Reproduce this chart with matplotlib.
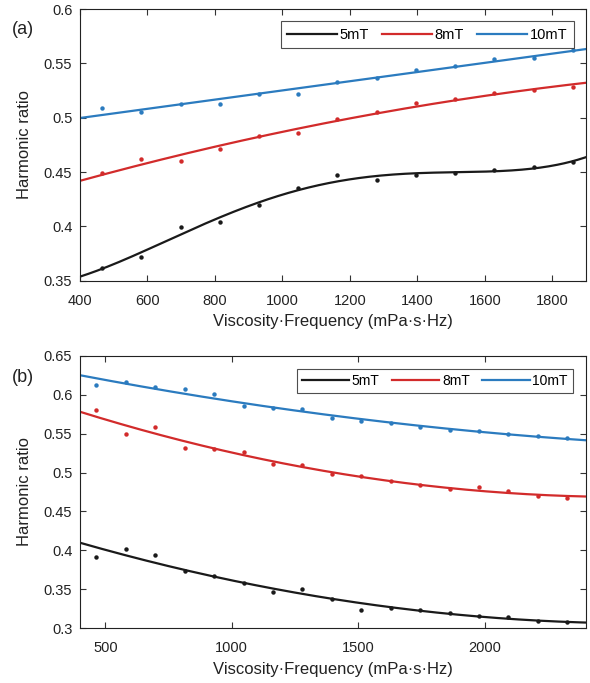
import numpy as np
import matplotlib
matplotlib.use("Agg")
import matplotlib.pyplot as plt

plt.rcParams['font.family'] = ['Liberation Sans', 'DejaVu Sans']

# ---------------- data ----------------
x_a = [465, 581, 698, 814, 930, 1047, 1163, 1279, 1396, 1512, 1628, 1745, 1861]
a_5mT = [0.362, 0.372, 0.399, 0.404, 0.420, 0.435, 0.447, 0.443, 0.447, 0.449, 0.452, 0.455, 0.459]
a_8mT = [0.449, 0.462, 0.460, 0.471, 0.483, 0.486, 0.499, 0.505, 0.514, 0.517, 0.523, 0.526, 0.528]
a_10mT = [0.509, 0.505, 0.513, 0.513, 0.522, 0.522, 0.533, 0.537, 0.544, 0.548, 0.554, 0.555, 0.562]

x_b = [465, 581, 698, 814, 930, 1047, 1163, 1279, 1396, 1512, 1628, 1745, 1861,
       1977, 2093, 2210, 2326]
b_5mT = [0.391, 0.402, 0.394, 0.374, 0.367, 0.358, 0.347, 0.350, 0.337, 0.323, 0.326,
         0.323, 0.320, 0.316, 0.315, 0.309, 0.308]
b_8mT = [0.580, 0.549, 0.558, 0.532, 0.530, 0.526, 0.511, 0.510, 0.498, 0.496, 0.489,
         0.484, 0.479, 0.481, 0.476, 0.470, 0.467]
b_10mT = [0.613, 0.616, 0.610, 0.607, 0.601, 0.585, 0.583, 0.581, 0.570, 0.566, 0.563,
          0.559, 0.554, 0.553, 0.550, 0.547, 0.544]

labels = ['5mT', '8mT', '10mT']
colors = ['#1a1a1a', '#d22b2b', '#2b7bbf']

fig = plt.figure(figsize=(5.9, 6.83), dpi=100)
ax_a = fig.add_axes([0.1356, 0.589, 0.8576, 0.3976])
ax_b = fig.add_axes([0.1356, 0.0801, 0.8576, 0.3991])

TFS = 10.5
LFS = 12


def draw(ax, xs, series, degs, xlim, ylim, xticks, yticks, legend_anchor, legfs, legpad):
    xf = np.linspace(xlim[0], xlim[1], 300)
    for ys, deg, c, lab in zip(series, degs, colors, labels):
        p = np.polyfit(xs, ys, deg)
        ax.plot(xf, np.polyval(p, xf), color=c, lw=1.6, label=lab, zorder=2)
        ax.plot(xs, ys, 'o', color=c, ms=3.2, mec='none', zorder=3)
    ax.set_xlim(*xlim)
    ax.set_ylim(*ylim)
    ax.set_xticks(xticks)
    ax.set_yticks(yticks)
    ax.set_yticklabels([('%g' % v) for v in yticks])
    ax.tick_params(direction='in', top=True, right=True, length=4.5, width=0.8,
                   labelsize=TFS, color='#333333', labelcolor='#222222')
    ax.tick_params(axis='x', pad=9.5)
    ax.tick_params(axis='y', pad=5.5)
    for s in ax.spines.values():
        s.set_linewidth(0.8)
        s.set_color('#222222')
    ax.set_xlabel('Viscosity\u00b7Frequency (mPa\u00b7s\u00b7Hz)', fontsize=LFS, color='#222222')
    ax.set_ylabel('Harmonic ratio', fontsize=LFS, color='#222222')
    ax.xaxis.set_label_coords(0.5, -0.122)
    ax.yaxis.set_label_coords(-0.095, 0.5)
    leg = ax.legend(loc='upper right', ncol=3, fontsize=legfs, frameon=True, fancybox=False,
                    handlelength=3.4, handletextpad=0.2, columnspacing=0.9,
                    borderpad=legpad, borderaxespad=0.0, bbox_to_anchor=legend_anchor)
    leg.get_frame().set_edgecolor('#222222')
    leg.get_frame().set_linewidth(0.8)


draw(ax_a, x_a, [a_5mT, a_8mT, a_10mT], [4, 2, 1], (400, 1900), (0.35, 0.6),
     [400, 600, 800, 1000, 1200, 1400, 1600, 1800], [0.35, 0.4, 0.45, 0.5, 0.55, 0.6],
     (0.976, 0.955), 10.5, 0.45)
draw(ax_b, x_b, [b_5mT, b_8mT, b_10mT], [2, 2, 2], (400, 2400), (0.3, 0.65),
     [500, 1000, 1500, 2000], [0.3, 0.35, 0.4, 0.45, 0.5, 0.55, 0.6, 0.65],
     (0.974, 0.95), 10, 0.35)

fig.text(0.020, 1 - 30 / 683, '(a)', fontsize=13, va='center', ha='left', color='#222222')
fig.text(0.020, 1 - 377 / 683, '(b)', fontsize=13, va='center', ha='left', color='#222222')

fig.savefig('out.png', dpi=100)
